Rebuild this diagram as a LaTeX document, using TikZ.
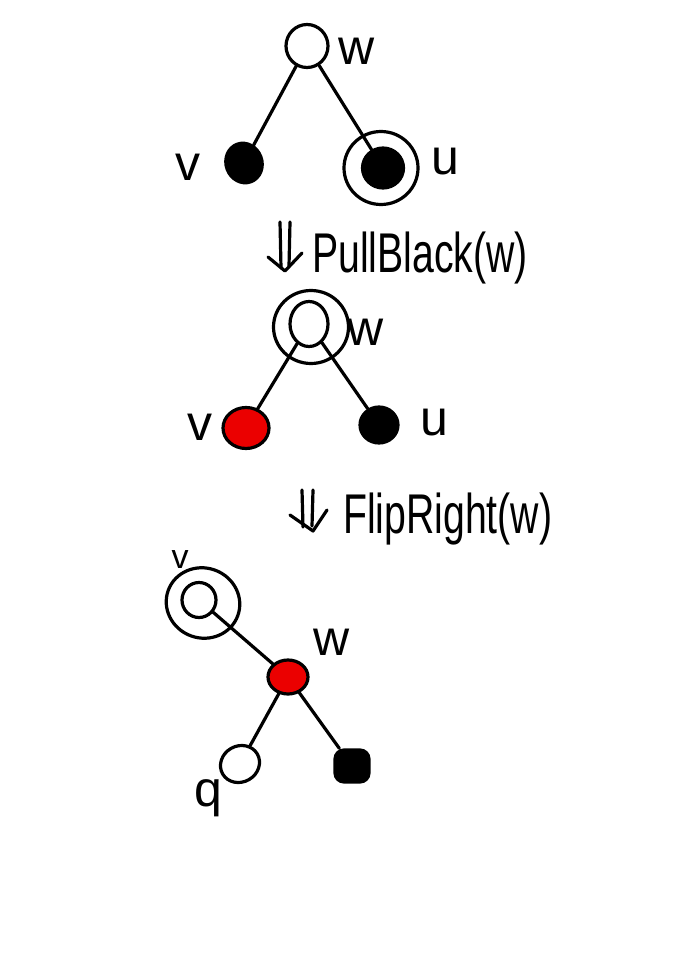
\documentclass[tikz,border=0pt]{standalone}
\usepackage{fontspec}
\setmainfont{Liberation Sans}
\usetikzlibrary{shapes.geometric}
\definecolor{nodered}{RGB}{235,0,0}
\tikzset{
  pen/.style={line width=3.2pt, line cap=round, line join=round},
  vtx/.style={ellipse, draw, pen, inner sep=0pt},
  whitev/.style={vtx, fill=white},
  blackv/.style={vtx, fill=black},
  redv/.style={vtx, fill=nodered},
  ring/.style={ellipse, draw, pen, inner sep=0pt},
  lab/.style={anchor=base, inner sep=0pt, font=\fontsize{50}{50}\selectfont},
  smalllab/.style={anchor=base, inner sep=0pt, font=\fontsize{34}{34}\selectfont},
  oplab/.style={anchor=base west, inner sep=0pt, font=\fontsize{56}{56}\selectfont},
  edge/.style={pen}
}
\begin{document}
\begin{tikzpicture}[x=1pt,y=-1pt]
\useasboundingbox (0,0) rectangle (679,960);
\fill[white] (0,0) rectangle (679,960);

% ---- top tree
\node[whitev, minimum width=42pt, minimum height=43pt] (w1) at (307,46) {};
\node[blackv, minimum width=36pt, minimum height=40pt, rotate=20] (v1) at (244,163) {};
\node[ring, minimum width=74pt, minimum height=73pt] (u1ring) at (381,168) {};
\node[blackv, minimum width=41pt, minimum height=40pt] (u1) at (383,168) {};
\draw[edge] (w1) -- (v1);
\draw[edge] (w1) -- (u1);
\node[lab] (lw1) at (357,65) {w};
\node[lab] (lv1) at (188,180) {v};
\node[lab] (lu1) at (445,175) {u};

% ---- arrow 1
\coordinate (a1l) at (280,222);
\coordinate (a1lb) at (281,268);
\coordinate (a1r) at (290,222);
\coordinate (a1rb) at (289,266);
\coordinate (a1tip) at (285,271);
\coordinate (a1la) at (268,257);
\coordinate (a1ra) at (302,253);
\draw[pen] (a1l) -- (a1lb);
\draw[pen] (a1r) -- (a1rb);
\draw[pen] (a1la) -- (a1tip) -- (a1ra);
\node[oplab] (op1) at (312,272) {\scalebox{0.7}[1]{PullBlack(w)}};

% ---- middle tree
\node[ring, minimum width=75pt, minimum height=73pt] (w2ring) at (311,327) {};
\node[whitev, minimum width=38pt, minimum height=45pt] (w2) at (309,324) {};
\node[redv, minimum width=46pt, minimum height=41pt] (v2) at (246,428) {};
\node[blackv, minimum width=38pt, minimum height=36pt] (u2) at (379,425) {};
\draw[edge] (w2) -- (v2);
\draw[edge] (w2) -- (u2);
\node[lab] (lw2) at (366,345) {w};
\node[lab] (lv2) at (200,440) {v};
\node[lab] (lu2) at (434,435) {u};

% ---- arrow 2
\coordinate (a2l) at (302,490);
\coordinate (a2lb) at (303,527);
\coordinate (a2r) at (313,490);
\coordinate (a2rb) at (312,526);
\coordinate (a2tip) at (313,531);
\coordinate (a2la) at (290,515);
\coordinate (a2ra) at (327,510);
\draw[pen] (a2l) -- (a2lb);
\draw[pen] (a2r) -- (a2rb);
\draw[pen] (a2la) -- (a2tip) -- (a2ra);
\node[oplab] (op2) at (343,533) {\scalebox{0.7}[1]{FlipRight(w)}};

% ---- bottom tree
\node[ring, minimum width=74pt, minimum height=70pt, rotate=-20] (v3ring) at (203,603) {};
\node[whitev, minimum width=34pt, minimum height=35pt] (v3) at (199,600) {};
\node[redv, minimum width=40pt, minimum height=34pt] (w3) at (288,677) {};
\node[whitev, minimum width=40pt, minimum height=36pt, rotate=30] (q3) at (240,764) {};
\node[draw, pen, fill=black, rounded corners=9pt, minimum width=34pt, minimum height=32pt, inner sep=0pt] (b3) at (352,766) {};
\draw[edge] (v3) -- (w3);
\draw[edge] (w3) -- (q3);
\draw[edge] (w3) -- (b3);
\node[smalllab] (lv3) at (180,568) {v};
\node[lab] (lw3) at (332,655) {w};
\node[lab] (lq3) at (208,806) {q};
\end{tikzpicture}
\end{document}
